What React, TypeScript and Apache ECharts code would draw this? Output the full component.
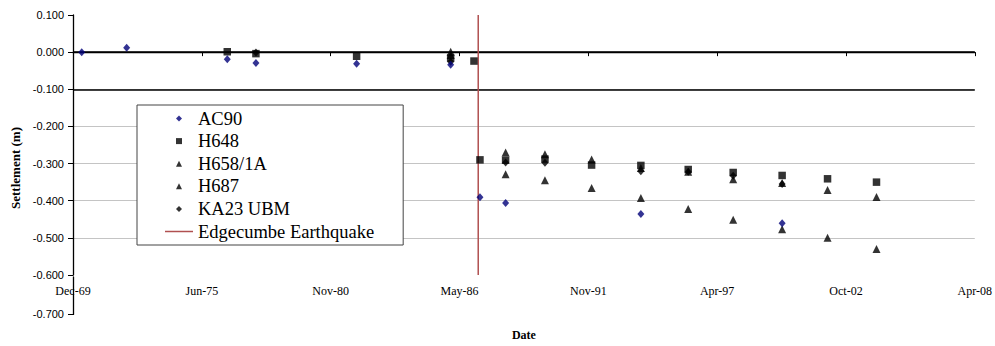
import React, { useEffect, useRef } from "react";
import * as echarts from "echarts";

// ---- data ----
const ac90Dates = ["1970-04-24", "1972-03-22", "1976-07-01", "1977-09-19", "1981-12-30", "1985-12-29", "1987-03-29", "1988-04-30", "1994-01-29", "2000-01-31"];
const ac90Values = [0.0, 0.012, -0.019, -0.029, -0.031, -0.034, -0.391, -0.406, -0.436, -0.461];

const h648Dates = ["1976-07-01", "1977-09-19", "1981-12-30", "1985-12-29", "1986-12-26", "1987-03-29", "1988-04-30", "1990-01-01", "1991-12-26", "1994-01-29", "1996-02-03", "1998-01-01", "2000-01-31", "2002-01-05", "2004-02-04"];
const h648Values = [0.001, -0.004, -0.011, -0.016, -0.024, -0.29, -0.291, -0.288, -0.304, -0.305, -0.316, -0.324, -0.332, -0.341, -0.35];

const h658Dates = ["1985-12-29", "1988-04-30", "1990-01-01", "1991-12-26", "1994-01-29", "1996-02-03", "1998-01-01", "2000-01-31", "2002-01-05", "2004-02-04"];
const h658Values = [0.001, -0.27, -0.275, -0.289, -0.312, -0.322, -0.342, -0.352, -0.371, -0.39];

const h687Dates = ["1985-12-29", "1988-04-30", "1990-01-01", "1991-12-26", "1994-01-29", "1996-02-03", "1998-01-01", "2000-01-31", "2002-01-05", "2004-02-04"];
const h687Values = [-0.008, -0.329, -0.345, -0.366, -0.393, -0.422, -0.451, -0.477, -0.5, -0.53];

const ka23Dates = ["1977-09-19", "1985-12-29", "1988-04-30", "1990-01-01", "1994-01-29", "1996-02-03", "1998-01-01", "2000-01-31"];
const ka23Values = [-0.001, -0.026, -0.297, -0.298, -0.321, -0.322, -0.333, -0.355];

const earthquakeDate = "1987-03-02";
const earthquakeRange = [0.1, -0.6];
const referenceLines = [0, -0.1];

const seriesNames = ["AC90", "H648", "H658/1A", "H687", "KA23 UBM", "Edgecumbe Earthquake"];
const monthNames = ["Jan", "Feb", "Mar", "Apr", "May", "Jun", "Jul", "Aug", "Sep", "Oct", "Nov", "Dec"];

// axis origin (Excel-style date axis, major unit 2000 days)
const BASE = Date.UTC(1969, 11, 10);
const DAY = 86400000;
const toDay = (s: string) => (Date.parse(s + "T00:00:00Z") - BASE) / DAY;
const pairs = (d: string[], v: number[]) => d.map((s, i) => [toDay(s), v[i]]);
const fmtDate = (v: number) => {
  const d = new Date(BASE + v * DAY);
  const yy = String(d.getUTCFullYear() % 100).padStart(2, "0");
  return `${monthNames[d.getUTCMonth()]}-${yy}`;
};

const SERIF = "'Liberation Serif', 'Times New Roman', serif";
const SANS = "'Liberation Sans', Arial, sans-serif";

const ICON_DIAMOND = "path://M5,0L10,5L5,10L0,5Z";
const ICON_SQUARE = "path://M0,0H10V10H0Z";
const ICON_TRIANGLE = "path://M5,0L10,10L0,10Z";
const ICON_LINE = "path://M0,0H28V1.5H0Z";
const legendIcons = [ICON_DIAMOND, ICON_SQUARE, ICON_TRIANGLE, ICON_TRIANGLE, ICON_DIAMOND, ICON_LINE];

const NAVY = "#000078";
const QUAKE = "#b05050";

export default function App() {
  const ref = useRef<HTMLDivElement>(null);
  useEffect(() => {
    if (!ref.current) return;
    const chart = echarts.init(ref.current, null, { renderer: "svg" });
    const eqDay = toDay(earthquakeDate);
    const option: any = {
      animation: false,
      backgroundColor: "#fff",
      grid: [
        { left: 73, right: 20, top: 15, height: 262 },
        { left: 73, right: 20, top: 277, height: 37.4 },
      ],
      xAxis: [
        {
          gridIndex: 0,
          type: "value",
          min: 0,
          max: 14000,
          interval: 2000,
          axisLine: { lineStyle: { color: "#000", width: 1.3 } },
          axisTick: { inside: false, length: 4, lineStyle: { color: "#000" } },
          axisLabel: { color: "#000", fontFamily: SERIF, fontSize: 12, margin: 10, formatter: fmtDate },
          splitLine: { show: false },
          name: "Date",
          nameLocation: "middle",
          nameGap: 54,
          nameTextStyle: { color: "#000", fontFamily: SERIF, fontSize: 12, fontWeight: "bold" },
        },
        { gridIndex: 1, type: "value", min: 0, max: 14000, show: false },
      ],
      yAxis: [
        {
          gridIndex: 0,
          type: "value",
          min: -0.6,
          max: 0.1,
          interval: 0.1,
          axisLine: { show: true, lineStyle: { color: "#000", width: 1.3 } },
          axisTick: { show: true, length: 5, lineStyle: { color: "#000" } },
          axisLabel: { color: "#000", fontFamily: SANS, fontSize: 11, margin: 9, formatter: (v: number) => v.toFixed(3) },
          splitLine: { show: true, showMinLine: false, showMaxLine: false, lineStyle: { color: "#c4c4c4", width: 1 } },
        },
        {
          gridIndex: 1,
          type: "value",
          min: -0.7,
          max: -0.6,
          interval: 0.1,
          axisLine: { show: true, lineStyle: { color: "#000", width: 1.3 } },
          axisTick: { show: true, length: 5, lineStyle: { color: "#000" } },
          axisLabel: { color: "#000", fontFamily: SANS, fontSize: 11, margin: 9, showMaxLabel: false, formatter: (v: number) => v.toFixed(3) },
          splitLine: { show: false },
        },
      ],
      legend: {
        orient: "vertical",
        left: 137,
        top: 105,
        padding: [4, 29, 4, 28],
        itemGap: 3.6,
        itemWidth: 28,
        itemHeight: 6,
        symbolKeepAspect: true,
        backgroundColor: "#fff",
        borderColor: "#444",
        borderWidth: 1,
        textStyle: { color: "#000", fontFamily: SERIF, fontSize: 18.5 },
        data: seriesNames.map((n, i) => ({ name: n, icon: legendIcons[i] })),
      },
      graphic: [
        {
          type: "text",
          x: 15,
          y: 168,
          rotation: Math.PI / 2,
          style: {
            text: "Settlement (m)",
            fontFamily: SERIF,
            fontSize: 13,
            fontWeight: "bold",
            fill: "#000",
            textAlign: "center",
            textVerticalAlign: "middle",
          },
        },
      ],
      series: [
        {
          name: "AC90",
          type: "scatter",
          symbol: "diamond",
          symbolSize: [7, 8],
          itemStyle: { color: NAVY },
          data: pairs(ac90Dates, ac90Values),
          z: 5,
          markLine: {
            silent: true,
            symbol: "none",
            label: { show: false },
            lineStyle: { color: "#000", width: 1.5, type: "solid" },
            data: referenceLines.map((v) => ({ yAxis: v })),
            z: 1,
          },
        },
        {
          name: "H648",
          type: "scatter",
          symbol: "rect",
          symbolSize: 7.5,
          itemStyle: { color: "#000" },
          data: pairs(h648Dates, h648Values),
          z: 4,
        },
        {
          name: "H658/1A",
          type: "scatter",
          symbol: "triangle",
          symbolSize: 8,
          itemStyle: { color: "#000" },
          data: pairs(h658Dates, h658Values),
          z: 4,
        },
        {
          name: "H687",
          type: "scatter",
          symbol: "triangle",
          symbolSize: 8,
          itemStyle: { color: "#000" },
          data: pairs(h687Dates, h687Values),
          z: 4,
        },
        {
          name: "KA23 UBM",
          type: "scatter",
          symbol: "diamond",
          symbolSize: [7, 8],
          itemStyle: { color: "#000" },
          data: pairs(ka23Dates, ka23Values),
          z: 4,
        },
        {
          name: "Edgecumbe Earthquake",
          type: "line",
          showSymbol: false,
          symbol: "none",
          lineStyle: { color: QUAKE, width: 1.5 },
          itemStyle: { color: QUAKE },
          data: earthquakeRange.map((v) => [eqDay, v]),
          z: 3,
        },
      ],
    };
    chart.setOption(option);
    return () => chart.dispose();
  }, []);
  return <div ref={ref} style={{ position: "absolute", left: 0, top: 0, width: 995, height: 346 }} />;
}
